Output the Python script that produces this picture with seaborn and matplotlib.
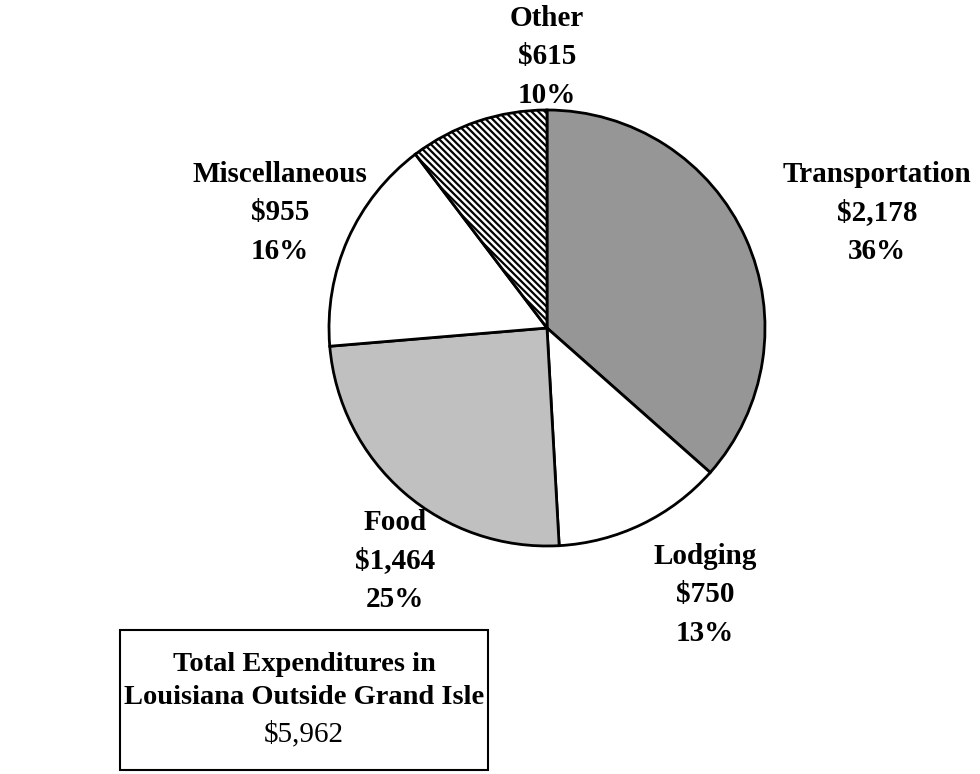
import matplotlib
matplotlib.use("Agg")
import matplotlib.pyplot as plt
import seaborn as sns
import pandas as pd
from matplotlib.patches import Rectangle

categories = ["Transportation", "Lodging", "Food", "Miscellaneous", "Other"]
amounts = [2178, 750, 1464, 955, 615]
amount_labels = ["$2,178", "$750", "$1,464", "$955", "$615"]
percent_labels = ["36%", "13%", "25%", "16%", "10%"]
total_label = "$5,962"

df = pd.DataFrame({"category": categories, "amount": amounts,
                   "amt": amount_labels, "pct": percent_labels})

sns.set_theme(style="white")
plt.rcParams['font.family'] = ['Liberation Serif', 'DejaVu Serif']
plt.rcParams['text.color'] = 'black'
plt.rcParams['hatch.linewidth'] = 1.6

W, H = 980, 774
fig = plt.figure(figsize=(W / 100, H / 100), dpi=100)
ax = fig.add_axes([0, 0, 1, 1])
ax.set_xlim(0, W)
ax.set_ylim(0, H)
ax.set_aspect("equal")
ax.axis("off")

colors = ["#969696", "#ffffff", "#c0c0c0", "#ffffff", "#ffffff"]
cx, cy, r = 547, H - 328, 218
wedges, _ = ax.pie(df["amount"], colors=colors, startangle=90, counterclock=False,
                   center=(cx, cy), radius=r, frame=True,
                   wedgeprops=dict(edgecolor="black", linewidth=2))
wedges[4].set_hatch("\\\\\\\\\\")
ax.set_xlim(0, W)
ax.set_ylim(0, H)
ax.axis("off")

label_pos = [(877, 213), (705, 595), (395, 561), (280, 213), (547, 57)]
for (x, y), row in zip(label_pos, df.itertuples()):
    ax.text(x, H - y, f"{row.category}\n{row.amt}\n{row.pct}", ha="center", va="center",
            fontsize=21, fontweight="bold", linespacing=1.55, color="black")

ax.add_patch(Rectangle((120, H - 770), 368, 140, fill=False, edgecolor="black", linewidth=1.5))
ax.text(304, H - 681, "Total Expenditures in\nLouisiana Outside Grand Isle", ha="center",
        va="center", fontsize=20.5, fontweight="bold", linespacing=1.45, color="black")
ax.text(304, H - 734, total_label, ha="center", va="center", fontsize=21, color="black")

fig.savefig("out.png", dpi=100, facecolor="white")
